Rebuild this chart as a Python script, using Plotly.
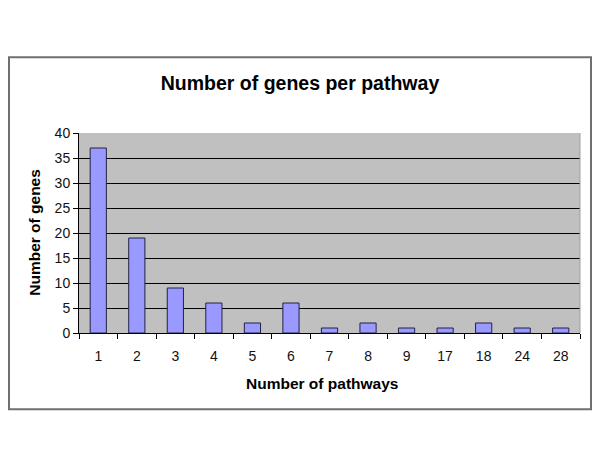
import plotly.graph_objects as go

categories = ["1", "2", "3", "4", "5", "6", "7", "8", "9", "17", "18", "24", "28"]
genes = [37, 19, 9, 6, 2, 6, 1, 2, 1, 1, 2, 1, 1]
y_ticks = [0, 5, 10, 15, 20, 25, 30, 35, 40]

OFF = 8  # page body margin
W, H = 600 - 2 * OFF, 450 - 2 * OFF
L, R, T, B = 79 - OFF, 12, 133 - OFF, 108.5
pw, ph = W - L - R, H - T - B

def px_x(x):
    return (x - OFF - L) / pw

def px_y(y):
    return (H - B - (y - OFF)) / ph

fig = go.Figure()
fig.add_trace(go.Bar(
    x=categories, y=genes,
    marker=dict(color="#9999FF", line=dict(color="#222244", width=1)),
    width=0.42,
))

fig.update_layout(
    width=W, height=H,
    margin=dict(l=L, r=R, t=T, b=B),
    paper_bgcolor="white",
    plot_bgcolor="#C0C0C0",
    showlegend=False,
    font=dict(family="Liberation Sans, Arial, sans-serif", color="#000000"),
    title=dict(text="<b>Number of genes per pathway</b>", x=px_x(300), xanchor="center",
               xref="paper",
               y=1 - (83 - OFF) / H, yanchor="middle", yref="container",
               font=dict(size=19.5, color="#000000")),
    xaxis=dict(type="category", tickson="boundaries", ticks="outside", ticklen=5,
               tickcolor="#000000", showline=True, linecolor="#000000", linewidth=1,
               showgrid=False, tickfont=dict(size=14, color="#111111"), ticklabelstandoff=10,
               range=[-0.5, len(categories) - 0.5]),
    yaxis=dict(range=[0, 40], tickvals=y_ticks, ticks="outside", ticklen=5,
               tickcolor="#000000", showline=True, linecolor="#000000", linewidth=1,
               showgrid=True, gridcolor="#000000", gridwidth=1, zeroline=False,
               tickfont=dict(size=14, color="#111111")),
    bargap=0.58,
)

# plot area light border (right)
fig.add_shape(type="line", xref="paper", yref="paper", x0=1, x1=1, y0=0, y1=1,
              line=dict(color="#A0A0A0", width=1))

# outer chart border
fig.add_shape(type="rect", xref="paper", yref="paper",
              x0=px_x(9), x1=px_x(591), y0=px_y(410), y1=px_y(57),
              line=dict(color="#707070", width=2), fillcolor="rgba(0,0,0,0)", layer="below")

fig.add_annotation(text="<b>Number of pathways</b>", xref="paper", yref="paper",
                   x=px_x(322), y=px_y(384), showarrow=False,
                   font=dict(size=15.5, color="#000000"), xanchor="center", yanchor="middle")
fig.add_annotation(text="<b>Number of genes</b>", xref="paper", yref="paper",
                   x=px_x(35), y=px_y(233), showarrow=False, textangle=-90,
                   font=dict(size=15.5, color="#000000"), xanchor="center", yanchor="middle")

fig.write_html("out.html")
